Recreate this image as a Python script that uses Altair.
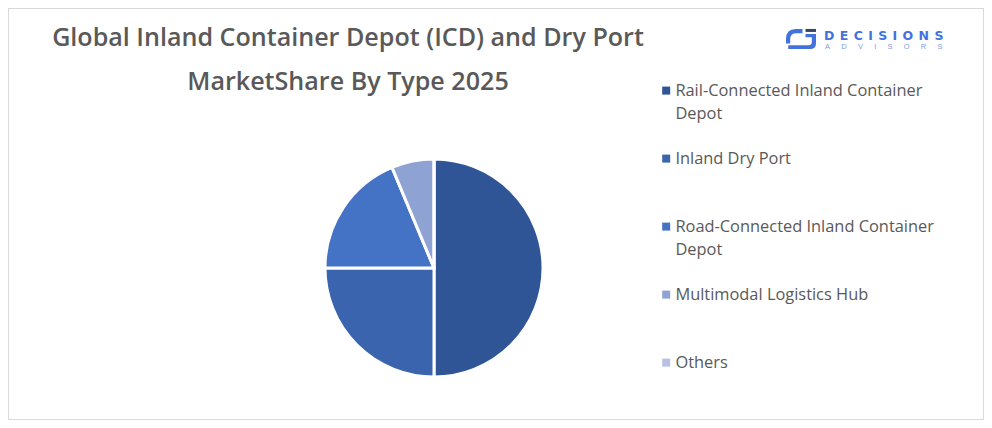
"""Global ICD and dry port market share by type, as a pie with a side legend."""

import altair as alt
import pandas as pd

title_lines = [
    "Global Inland Container Depot (ICD) and Dry Port",
    "MarketShare By Type 2025",
]
types = [
    "Rail-Connected Inland Container Depot",
    "Inland Dry Port",
    "Road-Connected Inland Container Depot",
    "Multimodal Logistics Hub",
    "Others",
]
shares = [50.0, 25.0, 18.7, 6.3, 0.0]
colors = ["#2F5597", "#3A64AD", "#4472C4", "#8FA2D4", "#B7C1E3"]

GREY = "#595959"
LOGO_BLUE = "#4472DC"
# two line labels, break before the last word
wrap_expr = (
    "indexof(datum.label, 'Container Depot') >= 0"
    " ? [replace(datum.label, ' Depot', ''), 'Depot'] : datum.label"
)
# square pushed down so it sits beside the first label line
legend_square = "M -1 0.85 L 1 0.85 L 1 2.85 L -1 2.85 Z"
icon_path = (
    "M 0.1 -0.67 L -0.35 -0.67 Q -1 -0.67 -1 0 L -1 0.3 L -0.72 0.3 L -0.72 0 "
    "Q -0.72 -0.38 -0.3 -0.38 L 0.1 -0.38 Z "
    "M 0.3 -0.33 L 1 -0.33 L 1 0.3 Q 1 0.67 0.6 0.67 L -0.85 0.67 L -0.85 0.42 "
    "L 0.5 0.42 Q 0.72 0.42 0.72 0.2 L 0.72 -0.12 L 0.3 -0.12 Z"
)
bar_path = "M 0.3 -0.67 L 1 -0.67 L 1 -0.47 L 0.3 -0.47 Z"

data = pd.DataFrame({"type": types, "share": shares, "rank": range(len(types))})

pie = (
    alt.Chart(data)
    .mark_arc(radius=109, stroke="white", strokeWidth=3)
    .encode(
        x=alt.value(426),
        y=alt.value(260),
        theta=alt.Theta("share:Q", stack=True),
        order=alt.Order("rank:Q"),
        color=alt.Color(
            "type:N",
            sort=types,
            scale=alt.Scale(domain=types, range=colors),
            legend=alt.Legend(
                title=None,
                orient="none",
                legendX=650,
                legendY=67,
                columns=1,
                gridAlign="all",
                symbolType=legend_square,
                symbolSize=64,
                symbolStrokeWidth=0,
                labelFont="Open Sans",
                labelFontSize=16.4,
                labelColor=GREY,
                labelLimit=320,
                labelBaseline="top",
                labelExpr=wrap_expr,
                labelOffset=1,
                rowPadding=20,
            ),
        ),
    )
)

layers = [pie]
for line, y in zip(title_lines, [29.5, 73.5]):
    layers.append(
        alt.Chart(data.head(1))
        .mark_text(
            text=line, font="Open Sans", fontWeight=600, fontSize=25.1, color=GREY, align="center"
        )
        .encode(x=alt.value(340), y=alt.value(y))
    )

layers += [
    alt.Chart(data.head(1))
    .mark_point(shape=icon_path, size=900, filled=True, opacity=1, color=LOGO_BLUE)
    .encode(x=alt.value(793), y=alt.value(31)),
    alt.Chart(data.head(1))
    .mark_point(shape=bar_path, size=900, filled=True, opacity=1, color="#34495E")
    .encode(x=alt.value(793), y=alt.value(31)),
    alt.Chart(data.head(1))
    .mark_text(
        text="\u2004\u200a".join("DECISIONS"),
        font="DejaVu Sans",
        fontWeight="bold",
        fontSize=12.5,
        color=LOGO_BLUE,
        align="left",
    )
    .encode(x=alt.value(816), y=alt.value(27.5)),
    alt.Chart(data.head(1))
    .mark_text(
        text="\u2003\u2002".join("ADVISORS"),
        font="Liberation Sans",
        fontSize=7.5,
        color="#7E9BE6",
        align="left",
    )
    .encode(x=alt.value(817), y=alt.value(38.7)),
]

chart = alt.layer(*layers).properties(
    width=976,
    height=412,
    padding=0,
    autosize=alt.AutoSizeParams(type="none"),
    config=alt.Config(
        view=alt.ViewConfig(stroke="#D9D9D9", strokeWidth=2),
        style={"guide-label": {"lineHeight": 23}},
    ),
)

chart.save("out.html", embed_options={"renderer": "svg", "actions": False})
